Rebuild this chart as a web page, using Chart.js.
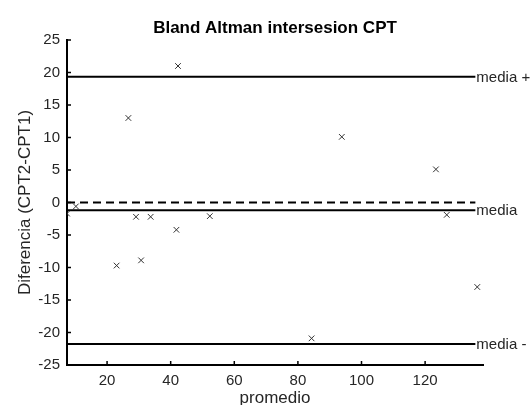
<!DOCTYPE html>
<html lang="es">
<head>
<meta charset="UTF-8">
<title>Bland Altman intersesion CPT</title>
<script src="https://cdn.jsdelivr.net/npm/chart.js"></script>
<style>
  html, body { margin: 0; padding: 0; background: #fff; }
  canvas { display: block; }
</style>
</head>
<body>
<canvas id="chart" width="530" height="405"></canvas>
<script>
// valores
const promedio   = [7.4, 10.2, 23.0, 26.7, 29.1, 30.7, 33.7, 41.8, 42.3, 52.3, 84.3, 93.8, 123.4, 126.8, 136.4];
const diferencia = [-1.7, -0.6, -9.7, 13.0, -2.2, -8.9, -2.2, -4.2, 21.0, -2.1, -20.9, 10.1, 5.1, -1.9, -13.0];

const mediaValues = [19.35, -1.2, -21.75];
const mediaLabels = ['media +', 'media', 'media -'];
const lineX = [7.4, 135.8];

const xTicks = [20, 40, 60, 80, 100, 120];
const yTicks = [-25, -20, -15, -10, -5, 0, 5, 10, 15, 20, 25];
const xRange = [7.4, 138.2];
const yRange = [-25, 25];

const FONT = '"Liberation Sans", Arial, sans-serif';
const TXT = '#262626';

const extras = {
  id: 'extras',
  afterDatasetsDraw(chart) {
    const { ctx, chartArea, scales: { x, y } } = chart;
    ctx.save();
    ctx.strokeStyle = '#000';
    ctx.lineWidth = 1.5;
    ctx.beginPath();
    xTicks.forEach(v => {
      const px = x.getPixelForValue(v);
      ctx.moveTo(px, chartArea.bottom);
      ctx.lineTo(px, chartArea.bottom - 4);
    });
    yTicks.forEach(v => {
      const py = y.getPixelForValue(v);
      ctx.moveTo(chartArea.left, py);
      ctx.lineTo(chartArea.left + 4, py);
    });
    ctx.stroke();
    ctx.fillStyle = TXT;
    ctx.font = '15px ' + FONT;
    ctx.textBaseline = 'middle';
    mediaValues.forEach((v, i) => {
      ctx.fillText(mediaLabels[i], x.getPixelForValue(lineX[1]) + 1, y.getPixelForValue(v) + 1);
    });
    ctx.restore();
  }
};

const hLine = (v, dash) => ({
  type: 'line',
  data: lineX.map(xv => ({ x: xv, y: v })),
  borderColor: '#000',
  borderWidth: 2,
  borderDash: dash,
  pointRadius: 0,
  fill: false
});

new Chart(document.getElementById('chart'), {
  type: 'scatter',
  data: {
    datasets: [
      {
        data: promedio.map((p, i) => ({ x: p, y: diferencia[i] })),
        pointStyle: 'crossRot',
        pointRadius: 4,
        borderColor: '#333',
        borderWidth: 1
      },
      hLine(mediaValues[0], []),
      hLine(mediaValues[1], []),
      hLine(mediaValues[2], []),
      hLine(0, [8, 5])
    ]
  },
  options: {
    responsive: false,
    animation: false,
    devicePixelRatio: 1,
    layout: { padding: { top: 0, right: 47, bottom: 0, left: 0 } },
    plugins: {
      legend: { display: false },
      tooltip: { enabled: false },
      title: {
        display: true,
        text: 'Bland Altman intersesion CPT',
        fullSize: false,
        color: '#000',
        font: { family: FONT, size: 17, weight: 'bold' },
        padding: { top: 18, bottom: 1.6 }
      }
    },
    scales: {
      x: {
        type: 'linear',
        min: xRange[0],
        max: xRange[1],
        afterBuildTicks: s => { s.ticks = xTicks.map(v => ({ value: v })); },
        afterFit: s => { s.height = 40; },
        grid: { display: false, drawTicks: false },
        border: { display: true, color: '#000', width: 2 },
        ticks: { color: TXT, font: { family: FONT, size: 15 }, padding: 7 },
        title: {
          display: true,
          text: 'promedio',
          color: TXT,
          font: { family: FONT, size: 17, lineHeight: 0.8 },
          padding: { top: 0, bottom: 0 }
        }
      },
      y: {
        type: 'linear',
        min: yRange[0],
        max: yRange[1],
        afterBuildTicks: s => { s.ticks = yTicks.map(v => ({ value: v })); },
        afterFit: s => { s.width = 67; },
        grid: { display: false, drawTicks: false },
        border: { display: true, color: '#000', width: 2 },
        ticks: { color: TXT, font: { family: FONT, size: 15 }, padding: 7 },
        title: {
          display: true,
          text: 'Diferencia (CPT2-CPT1)',
          color: TXT,
          font: { family: FONT, size: 17 },
          padding: { top: 15, bottom: 0 }
        }
      }
    }
  },
  plugins: [extras]
});
</script>
</body>
</html>
